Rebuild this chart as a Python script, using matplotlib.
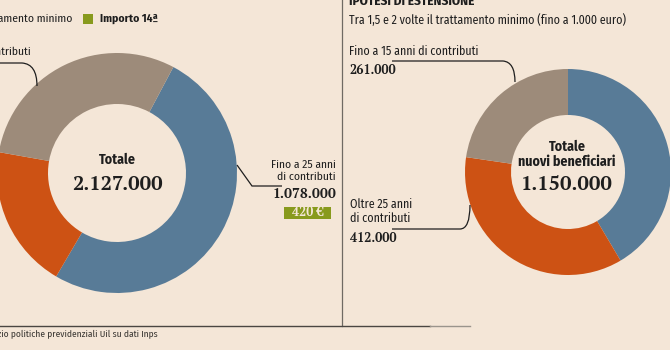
import matplotlib
matplotlib.use("Agg")
import matplotlib.pyplot as plt
from matplotlib.path import Path
from matplotlib.patches import PathPatch, Rectangle

# pensionati con la 14ª (entro il trattamento minimo)
left_labels = ["Fino a 25 anni\ndi contributi", "Oltre 25 anni\ndi contributi", "Fino a 15 anni di contributi"]
left_values = [1078000, 411000, 638000]
left_total = "2.127.000"
importo = "420 €"

# ipotesi di estensione (tra 1,5 e 2 volte il minimo)
right_labels = ["Fino a 25 anni\ndi contributi", "Oltre 25 anni\ndi contributi", "Fino a 15 anni di contributi"]
right_values = [477000, 412000, 261000]
right_total = "1.150.000"

colors = ["#587b97", "#cd5214", "#9d8b7a"]
bg = "#f4e6d7"
ink = "#1e1e1e"
green = "#889a1d"

sans = ["Fira Sans Condensed", "DejaVu Sans"]
serif = ["PT Serif", "DejaVu Serif"]

W, H = 670, 350
fig = plt.figure(figsize=(W / 100, H / 100), dpi=100, facecolor=bg)
ax = fig.add_axes([0, 0, 1, 1])
ax.set_facecolor(bg)


def donut(values, cx, cy, r, width, start):
    ax.pie(values, colors=colors, center=(cx, H - cy), radius=r, startangle=start,
           counterclock=False, wedgeprops=dict(width=width, linewidth=0))


donut(left_values, 117, 173, 120, 51, 62)
donut(right_values, 568, 172, 103, 46, 90)

ax.set_xlim(0, W)
ax.set_ylim(0, H)
ax.set_aspect("auto")
ax.axis("off")


def T(x, y, s, **kw):
    kw.setdefault("color", ink)
    kw.setdefault("family", sans)
    kw.setdefault("fontsize", 8.3)
    kw.setdefault("va", "center")
    ax.text(x, H - y, s, **kw)


def leader(pts):
    verts = [(x, H - y) for x, y in pts]
    codes = [Path.MOVETO, Path.LINETO, Path.CURVE3, Path.CURVE3]
    ax.add_patch(PathPatch(Path(verts, codes), fill=False, lw=0.9, color=ink))


# legenda
T(72, 19, "Trattamento minimo", ha="right")
ax.add_patch(Rectangle((83, H - 24), 10, 10, color=green, lw=0))
T(100, 19, "Importo 14ª", fontweight="bold")

# ciambella sinistra
T(31, 52, left_labels[2], ha="right")
leader([(0, 63), (22, 63), (37, 64), (37, 86)])
T(117, 160, "Totale", ha="center", fontweight="bold", fontsize=10)
T(117, 184, left_total, ha="center", family=serif, fontweight="bold", fontsize=14.5)
T(336, 171, left_labels[0], ha="right", linespacing=1.15)
leader([(237, 165), (252, 186), (256, 186), (282, 186)])
T(336, 195, "1.078.000", ha="right", family=serif, fontweight="bold", fontsize=10)
ax.add_patch(Rectangle((284, H - 219), 47, 12, color=green, lw=0))
T(307.5, 213, importo, ha="center", family=serif, fontweight="bold", fontsize=9, color="#f4e6d7")

# pannello destro
T(349, 1, "IPOTESI DI ESTENSIONE", fontweight="bold", fontsize=9.5)
T(349, 20, "Tra 1,5 e 2 volte il trattamento minimo (fino a 1.000 euro)", fontsize=8.6)
T(349, 51, right_labels[2], fontsize=8.6)
T(349, 71, "261.000", family=serif, fontweight="bold", fontsize=9.2)
leader([(392, 61), (503, 61), (515, 62), (515, 82)])

T(350, 211, right_labels[1], fontsize=8.6, linespacing=1.15)
leader([(392, 229), (460, 229), (470, 229), (470, 205)])
T(350, 239, "412.000", family=serif, fontweight="bold", fontsize=9.2)

T(567, 147, "Totale", ha="center", fontweight="bold", fontsize=10)
T(567, 162, "nuovi beneficiari", ha="center", fontweight="bold", fontsize=10)
T(567, 184, right_total, ha="center", family=serif, fontweight="bold", fontsize=14.5)

# filetti e fonte
ax.plot([342, 342], [H, H - 326], color="#6f6a63", lw=0.9)
ax.plot([0, 430], [H - 326, H - 326], color="#4a4642", lw=1.0)
ax.plot([430, 470], [H - 326, H - 326], color="#9a948c", lw=1.0)
T(158, 334, "Fonte: Servizio politiche previdenziali Uil su dati Inps", ha="right", fontsize=6.8, color="#3a3733")

fig.savefig("out.png", facecolor=bg)
